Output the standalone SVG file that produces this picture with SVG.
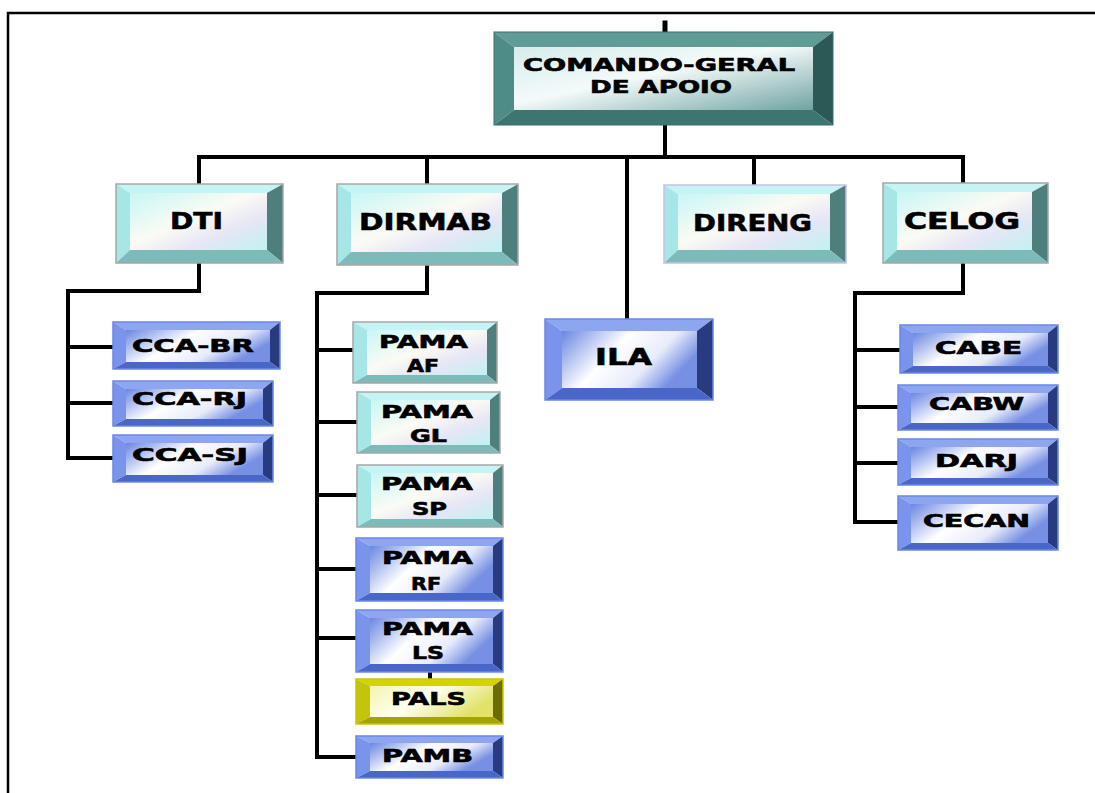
<svg xmlns="http://www.w3.org/2000/svg" width="1095" height="793" viewBox="0 0 1095 793">
<defs>
<linearGradient id="gTeal" x1="0" y1="0" x2="1" y2="1"><stop offset="0" stop-color="#d6ecec"/><stop offset="0.45" stop-color="#f4fafa"/><stop offset="1" stop-color="#6fa3a1"/></linearGradient>
<linearGradient id="gCyan" x1="0" y1="0" x2="1" y2="1"><stop offset="0" stop-color="#c8f6f6"/><stop offset="0.45" stop-color="#fbfbf4"/><stop offset="0.7" stop-color="#e6e6f6"/><stop offset="1" stop-color="#c0f2f2"/></linearGradient>
<linearGradient id="gBlue" x1="0" y1="0" x2="1" y2="0.4"><stop offset="0" stop-color="#6a86e2"/><stop offset="0.45" stop-color="#ffffff"/><stop offset="0.75" stop-color="#e8ecfa"/><stop offset="1" stop-color="#7890e4"/></linearGradient>
<linearGradient id="gYel" x1="0" y1="0" x2="1" y2="0.4"><stop offset="0" stop-color="#f4f4b0"/><stop offset="0.5" stop-color="#ffffef"/><stop offset="1" stop-color="#e2e26a"/></linearGradient>
</defs>
<style>
.ln{fill:none;stroke:#000;stroke-width:4;stroke-linecap:square;stroke-linejoin:miter}
.bd{fill:none;stroke:#000;stroke-width:2.5}
text{font-family:"DejaVu Sans","Liberation Sans",sans-serif;font-weight:bold;fill:#000;stroke:#000;stroke-width:0.6}
.t1{font-size:17px}
.t2{font-size:23px}
.teal .tp{fill:#5f9c98}.teal .lf{fill:#4e8c88}.teal .rt{fill:#2c5856}.teal .bt{fill:#3d7571}.teal .fc{fill:url(#gTeal)}.teal .ol{fill:none;stroke:#3a6e6b;stroke-width:1}
.cyan .tp{fill:#c6f4f4}.cyan .lf{fill:#a6e6e6}.cyan .rt{fill:#4f7f7d}.cyan .bt{fill:#7dbaba}.cyan .fc{fill:url(#gCyan)}.cyan .ol{fill:none;stroke:#a6a6a6;stroke-width:1.5}
.blue .tp{fill:#8ea6f0}.blue .lf{fill:#7a94ec}.blue .rt{fill:#283a80}.blue .bt{fill:#4a66c8}.blue .fc{fill:url(#gBlue)}.blue .ol{fill:none;stroke:#6a88e6;stroke-width:1.5}
.yel .tp{fill:#d4d400}.yel .lf{fill:#c4c40c}.yel .rt{fill:#6c6c00}.yel .bt{fill:#a4a400}.yel .fc{fill:url(#gYel)}.yel .ol{fill:none;stroke:#c8c800;stroke-width:1.5}
</style>
<rect width="1095" height="793" fill="#fff"/>
<path class="bd" d="M8,793 V13 H1095"/>
<g id="connectors">
<path class="ln" d="M665,23 V32" style="stroke-width:5"/>
<path class="ln" d="M665,125 V157"/>
<path class="ln" d="M199,184 V157 H963 V183"/>
<path class="ln" d="M427,157 V184"/>
<path class="ln" d="M627,157 V319"/>
<path class="ln" d="M754,157 V185"/>
<path class="ln" d="M199,263 V291 H68 V458 H113"/>
<path class="ln" d="M68,347 H113 M68,403 H113"/>
<path class="ln" d="M427,265 V293 H317 V757 H356"/>
<path class="ln" d="M317,350 H353 M317,422 H357 M317,495 H357 M317,569 H356 M317,638 H356"/>
<path class="ln" d="M430,672 V679"/>
<path class="ln" d="M963,263 V293 H855 V522 H898"/>
<path class="ln" d="M855,350 H900 M855,407 H898 M855,463 H898"/>
</g>
<g id="n-root" class="teal">
<polygon class="tp" points="494,32 833,32 813,47 514,47"/>
<polygon class="lf" points="494,32 514,47 514,110 494,125"/>
<polygon class="rt" points="833,32 833,125 813,110 813,47"/>
<polygon class="bt" points="494,125 514,110 813,110 833,125"/>
<rect class="fc" x="514" y="47" width="299" height="63"/>
<rect class="ol" x="494" y="32" width="339" height="93"/>
<text class="t1" x="523" y="71" textLength="272" lengthAdjust="spacingAndGlyphs">COMANDO-GERAL</text>
<text class="t1" x="590" y="93" textLength="142" lengthAdjust="spacingAndGlyphs">DE APOIO</text>
</g>
<g id="n-dti" class="cyan">
<polygon class="tp" points="116,184 283,184 267,193 130,193"/>
<polygon class="lf" points="116,184 130,193 130,250 116,263"/>
<polygon class="rt" points="283,184 283,263 267,250 267,193"/>
<polygon class="bt" points="116,263 130,250 267,250 283,263"/>
<rect class="fc" x="130" y="193" width="137" height="57"/>
<rect class="ol" x="116" y="184" width="167" height="79"/>
<text class="t2" x="170" y="229" textLength="53" lengthAdjust="spacingAndGlyphs">DTI</text>
</g>
<g id="n-dirmab" class="cyan">
<polygon class="tp" points="337,184 518,184 502,193 351,193"/>
<polygon class="lf" points="337,184 351,193 351,252 337,265"/>
<polygon class="rt" points="518,184 518,265 502,252 502,193"/>
<polygon class="bt" points="337,265 351,252 502,252 518,265"/>
<rect class="fc" x="351" y="193" width="151" height="59"/>
<rect class="ol" x="337" y="184" width="181" height="81"/>
<text class="t2" x="359" y="230" textLength="133" lengthAdjust="spacingAndGlyphs">DIRMAB</text>
</g>
<g id="n-direng" class="cyan">
<polygon class="tp" points="664,185 846,185 830,194 678,194"/>
<polygon class="lf" points="664,185 678,194 678,250 664,263"/>
<polygon class="rt" points="846,185 846,263 830,250 830,194"/>
<polygon class="bt" points="664,263 678,250 830,250 846,263"/>
<rect class="fc" x="678" y="194" width="152" height="56"/>
<rect class="ol" x="664" y="185" width="182" height="78" style="stroke:#c8c0e8"/>
<text class="t2" x="693" y="231" textLength="119" lengthAdjust="spacingAndGlyphs">DIRENG</text>
</g>
<g id="n-celog" class="cyan">
<polygon class="tp" points="883,183 1048,183 1032,192 897,192"/>
<polygon class="lf" points="883,183 897,192 897,250 883,263"/>
<polygon class="rt" points="1048,183 1048,263 1032,250 1032,192"/>
<polygon class="bt" points="883,263 897,250 1032,250 1048,263"/>
<rect class="fc" x="897" y="192" width="135" height="58"/>
<rect class="ol" x="883" y="183" width="165" height="80"/>
<text class="t2" x="904" y="229" textLength="116" lengthAdjust="spacingAndGlyphs">CELOG</text>
</g>
<g id="n-ila" class="blue">
<polygon class="tp" points="545,319 713,319 697,331 562,331"/>
<polygon class="lf" points="545,319 562,331 562,388 545,400"/>
<polygon class="rt" points="713,319 713,400 697,388 697,331"/>
<polygon class="bt" points="545,400 562,388 697,388 713,400"/>
<rect class="fc" x="562" y="331" width="135" height="57"/>
<rect class="ol" x="545" y="319" width="168" height="81"/>
<text class="t2" x="595" y="365" textLength="57" lengthAdjust="spacingAndGlyphs">ILA</text>
</g>
<g id="n-ccabr" class="blue">
<polygon class="tp" points="113,322 280,322 270,330 126,330"/>
<polygon class="lf" points="113,322 126,330 126,362 113,369"/>
<polygon class="rt" points="280,322 280,369 270,362 270,330"/>
<polygon class="bt" points="113,369 126,362 270,362 280,369"/>
<rect class="fc" x="126" y="330" width="144" height="32"/>
<rect class="ol" x="113" y="322" width="167" height="47"/>
<text class="t1" x="132" y="352" textLength="122" lengthAdjust="spacingAndGlyphs">CCA-BR</text>
</g>
<g id="n-ccarj" class="blue">
<polygon class="tp" points="113,381 273,381 263,389 126,389"/>
<polygon class="lf" points="113,381 126,389 126,419 113,426"/>
<polygon class="rt" points="273,381 273,426 263,419 263,389"/>
<polygon class="bt" points="113,426 126,419 263,419 273,426"/>
<rect class="fc" x="126" y="389" width="137" height="30"/>
<rect class="ol" x="113" y="381" width="160" height="45"/>
<text class="t1" x="132" y="405" textLength="115" lengthAdjust="spacingAndGlyphs">CCA-RJ</text>
</g>
<g id="n-ccasj" class="blue">
<polygon class="tp" points="113,435 273,435 263,443 126,443"/>
<polygon class="lf" points="113,435 126,443 126,475 113,482"/>
<polygon class="rt" points="273,435 273,482 263,475 263,443"/>
<polygon class="bt" points="113,482 126,475 263,475 273,482"/>
<rect class="fc" x="126" y="443" width="137" height="32"/>
<rect class="ol" x="113" y="435" width="160" height="47"/>
<text class="t1" x="132" y="461" textLength="116" lengthAdjust="spacingAndGlyphs">CCA-SJ</text>
</g>
<g id="n-pamaaf" class="cyan">
<polygon class="tp" points="353,322 497,322 487,330 367,330"/>
<polygon class="lf" points="353,322 367,330 367,375 353,383"/>
<polygon class="rt" points="497,322 497,383 487,375 487,330"/>
<polygon class="bt" points="353,383 367,375 487,375 497,383"/>
<rect class="fc" x="367" y="330" width="120" height="45"/>
<rect class="ol" x="353" y="322" width="144" height="61"/>
<text class="t1" x="379" y="348" textLength="89" lengthAdjust="spacingAndGlyphs">PAMA</text>
<text class="t1" x="407" y="372" textLength="32" lengthAdjust="spacingAndGlyphs">AF</text>
</g>
<g id="n-pamagl" class="cyan">
<polygon class="tp" points="357,392 500,392 490,400 371,400"/>
<polygon class="lf" points="357,392 371,400 371,445 357,453"/>
<polygon class="rt" points="500,392 500,453 490,445 490,400"/>
<polygon class="bt" points="357,453 371,445 490,445 500,453"/>
<rect class="fc" x="371" y="400" width="119" height="45"/>
<rect class="ol" x="357" y="392" width="143" height="61"/>
<text class="t1" x="381" y="418" textLength="92" lengthAdjust="spacingAndGlyphs">PAMA</text>
<text class="t1" x="410" y="442" textLength="37" lengthAdjust="spacingAndGlyphs">GL</text>
</g>
<g id="n-pamasp" class="cyan">
<polygon class="tp" points="357,465 503,465 493,473 371,473"/>
<polygon class="lf" points="357,465 371,473 371,519 357,527"/>
<polygon class="rt" points="503,465 503,527 493,519 493,473"/>
<polygon class="bt" points="357,527 371,519 493,519 503,527"/>
<rect class="fc" x="371" y="473" width="122" height="46"/>
<rect class="ol" x="357" y="465" width="146" height="62"/>
<text class="t1" x="381" y="490" textLength="92" lengthAdjust="spacingAndGlyphs">PAMA</text>
<text class="t1" x="412" y="515" textLength="35" lengthAdjust="spacingAndGlyphs">SP</text>
</g>
<g id="n-pamarf" class="blue">
<polygon class="tp" points="356,538 503,538 493,546 370,546"/>
<polygon class="lf" points="356,538 370,546 370,593 356,601"/>
<polygon class="rt" points="503,538 503,601 493,593 493,546"/>
<polygon class="bt" points="356,601 370,593 493,593 503,601"/>
<rect class="fc" x="370" y="546" width="123" height="47"/>
<rect class="ol" x="356" y="538" width="147" height="63"/>
<text class="t1" x="382" y="564" textLength="91" lengthAdjust="spacingAndGlyphs">PAMA</text>
<text class="t1" x="411" y="590" textLength="30" lengthAdjust="spacingAndGlyphs">RF</text>
</g>
<g id="n-pamals" class="blue">
<polygon class="tp" points="356,610 503,610 493,618 370,618"/>
<polygon class="lf" points="356,610 370,618 370,664 356,672"/>
<polygon class="rt" points="503,610 503,672 493,664 493,618"/>
<polygon class="bt" points="356,672 370,664 493,664 503,672"/>
<rect class="fc" x="370" y="618" width="123" height="46"/>
<rect class="ol" x="356" y="610" width="147" height="62"/>
<text class="t1" x="382" y="635" textLength="91" lengthAdjust="spacingAndGlyphs">PAMA</text>
<text class="t1" x="412" y="659" textLength="32" lengthAdjust="spacingAndGlyphs">LS</text>
</g>
<g id="n-pals" class="yel">
<polygon class="tp" points="356,679 503,679 493,686 370,686"/>
<polygon class="lf" points="356,679 370,686 370,717 356,724"/>
<polygon class="rt" points="503,679 503,724 493,717 493,686"/>
<polygon class="bt" points="356,724 370,717 493,717 503,724"/>
<rect class="fc" x="370" y="686" width="123" height="31"/>
<rect class="ol" x="356" y="679" width="147" height="45"/>
<text class="t1" x="391" y="705" textLength="75" lengthAdjust="spacingAndGlyphs">PALS</text>
</g>
<g id="n-pamb" class="blue">
<polygon class="tp" points="356,736 503,736 493,743 370,743"/>
<polygon class="lf" points="356,736 370,743 370,771 356,778"/>
<polygon class="rt" points="503,736 503,778 493,771 493,743"/>
<polygon class="bt" points="356,778 370,771 493,771 503,778"/>
<rect class="fc" x="370" y="743" width="123" height="28"/>
<rect class="ol" x="356" y="736" width="147" height="42"/>
<text class="t1" x="382" y="762" textLength="91" lengthAdjust="spacingAndGlyphs">PAMB</text>
</g>
<g id="n-cabe" class="blue">
<polygon class="tp" points="900,325 1058,325 1048,333 913,333"/>
<polygon class="lf" points="900,325 913,333 913,366 900,373"/>
<polygon class="rt" points="1058,325 1058,373 1048,366 1048,333"/>
<polygon class="bt" points="900,373 913,366 1048,366 1058,373"/>
<rect class="fc" x="913" y="333" width="135" height="33"/>
<rect class="ol" x="900" y="325" width="158" height="48"/>
<text class="t1" x="935" y="354" textLength="87" lengthAdjust="spacingAndGlyphs">CABE</text>
</g>
<g id="n-cabw" class="blue">
<polygon class="tp" points="898,385 1058,385 1048,393 911,393"/>
<polygon class="lf" points="898,385 911,393 911,423 898,430"/>
<polygon class="rt" points="1058,385 1058,430 1048,423 1048,393"/>
<polygon class="bt" points="898,430 911,423 1048,423 1058,430"/>
<rect class="fc" x="911" y="393" width="137" height="30"/>
<rect class="ol" x="898" y="385" width="160" height="45"/>
<text class="t1" x="929" y="410" textLength="95" lengthAdjust="spacingAndGlyphs">CABW</text>
</g>
<g id="n-darj" class="blue">
<polygon class="tp" points="898,439 1058,439 1048,447 911,447"/>
<polygon class="lf" points="898,439 911,447 911,478 898,485"/>
<polygon class="rt" points="1058,439 1058,485 1048,478 1048,447"/>
<polygon class="bt" points="898,485 911,478 1048,478 1058,485"/>
<rect class="fc" x="911" y="447" width="137" height="31"/>
<rect class="ol" x="898" y="439" width="160" height="46"/>
<text class="t1" x="935" y="467" textLength="83" lengthAdjust="spacingAndGlyphs">DARJ</text>
</g>
<g id="n-cecan" class="blue">
<polygon class="tp" points="898,496 1058,496 1048,504 911,504"/>
<polygon class="lf" points="898,496 911,504 911,543 898,550"/>
<polygon class="rt" points="1058,496 1058,550 1048,543 1048,504"/>
<polygon class="bt" points="898,550 911,543 1048,543 1058,550"/>
<rect class="fc" x="911" y="504" width="137" height="39"/>
<rect class="ol" x="898" y="496" width="160" height="54"/>
<text class="t1" x="923" y="527" textLength="107" lengthAdjust="spacingAndGlyphs">CECAN</text>
</g>
</svg>
